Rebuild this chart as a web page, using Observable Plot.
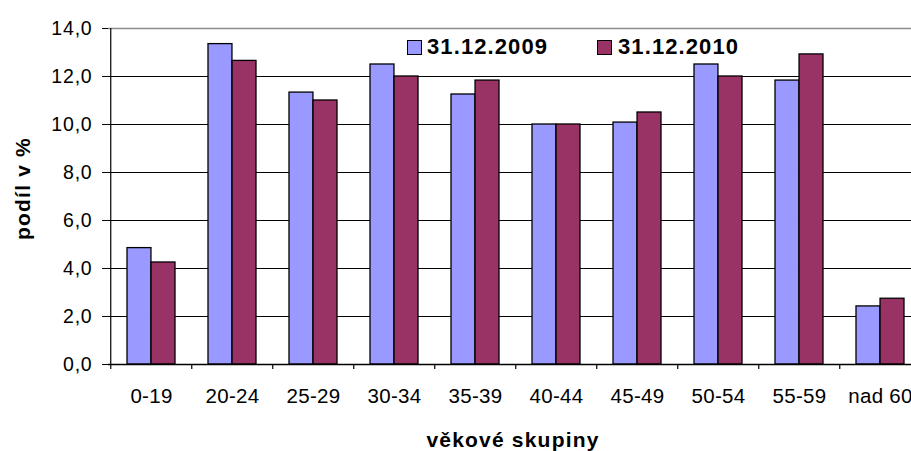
<!DOCTYPE html>
<html>
<head>
<meta charset="utf-8">
<script src="https://cdn.jsdelivr.net/npm/d3@7"></script>
<script src="https://cdn.jsdelivr.net/npm/@observablehq/plot@0.6"></script>
<style>
  html, body { margin: 0; padding: 0; background: #fff; overflow: hidden; }
  #wrap { position: relative; width: 911px; height: 451px; }
  #wrap svg { overflow: hidden; }
  .lg-box { position: absolute; width: 13px; height: 13px; border: 1px solid #000; }
  .lg-text { position: absolute; font: bold 22px "Liberation Sans", Arial, sans-serif; letter-spacing: 1.1px; line-height: 22px; color: #000; white-space: nowrap; }
</style>
</head>
<body>
<div id="wrap"></div>
<script>
const categories = ["0-19","20-24","25-29","30-34","35-39","40-44","45-49","50-54","55-59","nad 60"];
const values2009 = [4.85, 13.35, 11.33, 12.5, 11.25, 10.0, 10.08, 12.5, 11.83, 2.42];
const values2010 = [4.25, 12.65, 11.0, 12.0, 11.83, 10.0, 10.5, 12.0, 12.92, 2.74];
const seriesNames = ["31.12.2009", "31.12.2010"];
const seriesColors = ["#9999ff", "#993366"];
const yTicks = [0, 2, 4, 6, 8, 10, 12, 14];
const yLabel = "podíl v %";
const xLabel = "věkové skupiny";

const d2009 = categories.map((c, i) => ({cat: c, v: values2009[i]}));
const d2010 = categories.map((c, i) => ({cat: c, v: values2010[i]}));

const W = 911, H = 451;
const left = 108.3, rightEdge = 923.3;
const step = (rightEdge - left) / categories.length;
const pInner = 0.41;
const bw = step * (1 - pInner);
const font = '"Liberation Sans", Arial, sans-serif';

const chart = Plot.plot({
  width: W,
  height: H,
  marginTop: 28,
  marginBottom: 87,
  marginLeft: 108,
  marginRight: 0,
  style: {fontFamily: font, color: "#000", background: "#fff"},
  x: {domain: categories, range: [left, rightEdge], paddingInner: pInner, paddingOuter: pInner / 2, label: null},
  y: {domain: [0, 14], label: null},
  marks: [
    Plot.ruleY(yTicks.filter(t => t > 0 && t < 14), {stroke: "#000", strokeWidth: 1}),
    Plot.ruleY([14], {stroke: "#8c8c8c", strokeWidth: 1.5}),
    Plot.barY(d2009, {x: "cat", y: "v", fill: seriesColors[0], stroke: "#000", strokeWidth: 1.3, insetRight: bw / 2}),
    Plot.barY(d2010, {x: "cat", y: "v", fill: seriesColors[1], stroke: "#000", strokeWidth: 1.3, insetLeft: bw / 2}),
    Plot.ruleY([0], {stroke: "#000", strokeWidth: 1.3}),
    Plot.ruleX([categories[0]], {x: d => d, dx: -step / 2, y1: 0, y2: 14, stroke: "#000", strokeWidth: 1.2}),
    Plot.ruleX(categories, {x: d => d, dx: -step / 2, y1: 0, y2: 0, insetBottom: -5, stroke: "#000", strokeWidth: 1.2}),
    Plot.axisY({ticks: yTicks, tickFormat: d => d.toFixed(1).replace(".", ","), tickSize: 6, tickPadding: 10, fontSize: 19.5, label: null, stroke: "#000"}),
    Plot.axisX({tickSize: 0, tickPadding: 24, fontSize: 20.5, label: null}),
    Plot.text([yLabel], {frameAnchor: "left", text: d => d, rotate: -90, textAnchor: "middle", dx: -85, dy: -8, fontSize: 21, fontWeight: "bold", fill: "#000", lineAnchor: "middle"}),
    Plot.text([xLabel], {frameAnchor: "bottom", text: d => d, textAnchor: "middle", dx: 3, dy: 82, fontSize: 21, fontWeight: "bold", fill: "#000", lineAnchor: "bottom"})
  ]
});
const wrap = document.getElementById("wrap");
wrap.appendChild(chart);
d3.select(chart).selectAll("g[aria-label='y-axis tick label'] text").style("letter-spacing", "0.8px");
d3.select(chart).selectAll("g[aria-label='x-axis tick label'] text").style("letter-spacing", "0.3px");
d3.select(chart).selectAll("g[aria-label='text'] text").style("letter-spacing", "1.2px");

// legend overlay inside plot area
const legendPos = [{box: 407, text: 427}, {box: 597, text: 618}];
seriesNames.forEach((name, i) => {
  const b = document.createElement("div");
  b.className = "lg-box";
  b.style.left = legendPos[i].box + "px";
  b.style.top = "40px";
  b.style.background = seriesColors[i];
  wrap.appendChild(b);
  const t = document.createElement("div");
  t.className = "lg-text";
  t.style.left = legendPos[i].text + "px";
  t.style.top = "36px";
  t.textContent = name;
  wrap.appendChild(t);
});
</script>
</body>
</html>
